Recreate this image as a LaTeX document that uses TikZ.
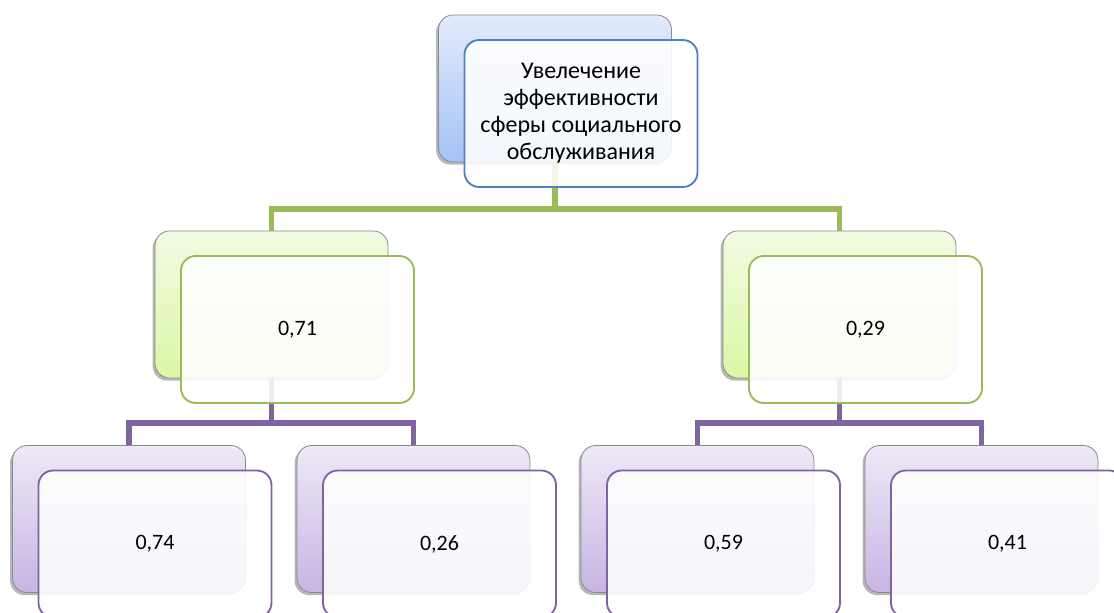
\documentclass[tikz,border=0pt]{standalone}
\usepackage{fontspec}
\setmainfont{Carlito}
\usetikzlibrary{shadows}
\pgfdeclarelayer{background}
\pgfsetlayers{background,main}
\definecolor{blueedge}{HTML}{4F81BD}
\definecolor{greenedge}{HTML}{9BBB59}
\definecolor{purpleedge}{HTML}{8064A2}
\definecolor{bluetop}{HTML}{E2EAFB}
\definecolor{bluebot}{HTML}{A5C3F5}
\definecolor{greentop}{HTML}{F1FBE2}
\definecolor{greenbot}{HTML}{DBF7A6}
\definecolor{purpletop}{HTML}{EEE9F7}
\definecolor{purplebot}{HTML}{C7B4E3}
\definecolor{backedge}{HTML}{8A8A8A}
\tikzset{
  card/.style={rectangle, rounded corners=11pt, minimum width=174.75pt,
    minimum height=110.25pt, inner sep=0pt},
  backcard/.style={card, draw=backedge, line width=0.6pt,
    drop shadow={shadow xshift=-1.8pt, shadow yshift=-2pt, opacity=0.4, fill=black!70}},
  frontcard/.style={card, draw=#1, line width=1.4pt, fill=white, fill opacity=0.88,
    text opacity=1, font=\fontsize{16.5pt}{20.25pt}\selectfont, align=center},
  titlefont/.style={font=\fontsize{18pt}{20.25pt}\selectfont},
  bluecard/.style={backcard, top color=bluetop, bottom color=bluebot},
  greencard/.style={backcard, top color=greentop, bottom color=greenbot},
  purplecard/.style={backcard, top color=purpletop, bottom color=purplebot},
  gconn/.style={draw=greenedge, line width=3.8pt},
  pconn/.style={draw=purpleedge, line width=3.8pt},
}
\begin{document}
\begin{tikzpicture}[x=0.75pt,y=-0.75pt]
\useasboundingbox (0,0) rectangle (1114,613);
\clip (0,0) rectangle (1114,613);

% junction points of the elbow connectors
\coordinate (j0) at (555,209);
\coordinate (j1) at (271.5,423);
\coordinate (j2) at (839.5,423);

% back cards (gradient with shadow)
\node[bluecard]   (b0) at (555,88.5)   {};
\node[greencard]  (b1) at (271.5,304.5) {};
\node[greencard]  (b2) at (839.5,304.5) {};
\node[purplecard] (b3) at (129,519)    {};
\node[purplecard] (b4) at (413.5,519)  {};
\node[purplecard] (b5) at (697.5,519)  {};
\node[purplecard] (b6) at (981.5,519)  {};

% connectors run behind the cards
\begin{pgfonlayer}{background}
\draw[gconn] (b0.south) -- (j0);
\draw[gconn] (j0) -| (b1.north);
\draw[gconn] (j0) -| (b2.north);
\draw[pconn] (b1.south) -- (j1);
\draw[pconn] (j1) -| (b3.north);
\draw[pconn] (j1) -| (b4.north);
\draw[pconn] (b2.south) -- (j2);
\draw[pconn] (j2) -| (b5.north);
\draw[pconn] (j2) -| (b6.north);
\end{pgfonlayer}

% translucent front cards with the labels
\node[frontcard=blueedge, titlefont] (f0) at (581,113.5) {Увелечение\\эффективности\\сферы социального\\обслуживания};
\node[frontcard=greenedge]  (f1) at (297.5,329.5) {0,71};
\node[frontcard=greenedge]  (f2) at (865.5,329.5) {0,29};
\node[frontcard=purpleedge] (f3) at (155,544)     {0,74};
\node[frontcard=purpleedge] (f4) at (439.5,544)   {0,26};
\node[frontcard=purpleedge] (f5) at (723.5,544)   {0,59};
\node[frontcard=purpleedge] (f6) at (1007.5,544)  {0,41};
\end{tikzpicture}
\end{document}
